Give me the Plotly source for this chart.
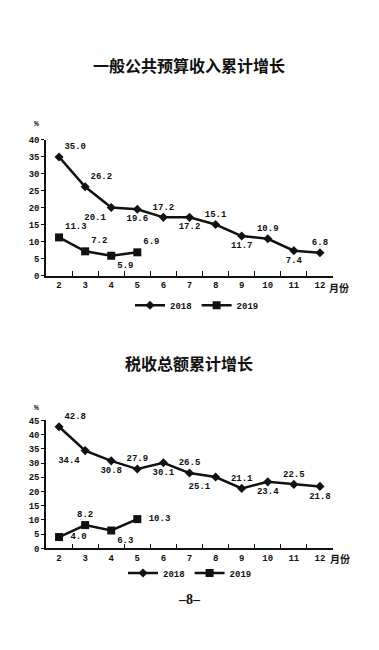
import plotly.graph_objects as go

months = ["2", "3", "4", "5", "6", "7", "8", "9", "10", "11", "12"]
budget_2018 = [35.0, 26.2, 20.1, 19.6, 17.2, 17.2, 15.1, 11.7, 10.9, 7.4, 6.8]
budget_2019 = [11.3, 7.2, 5.9, 6.9]
tax_2018 = [42.8, 34.4, 30.8, 27.9, 30.1, 26.5, 25.1, 21.1, 23.4, 22.5, 21.8]
tax_2019 = [4.0, 8.2, 6.3, 10.3]

title_top = "一般公共预算收入累计增长"
title_bottom = "税收总额累计增长"

budget_2018_pos = ["top right", "top right", "bottom left", "bottom center", "top center",
                   "bottom center", "top center", "bottom center", "top center", "bottom center", "top center"]
budget_2019_pos = ["top right", "top right", "bottom right", "top right"]
tax_2018_pos = ["top right", "bottom left", "bottom center", "top center", "bottom center",
                "top center", "bottom left", "top center", "bottom center", "top center", "bottom center"]
tax_2019_pos = ["middle right", "top center", "bottom right", "middle right"]

# page body has an 8px margin; figure is placed at (8, 8)
OFF = 8
FW, FH = 379 - 2 * OFF, 650 - 2 * OFF


def px(x):
    return (x - OFF) / FW


def py(y):
    return 1 - (y - OFF) / FH


cjk = "Noto Sans CJK SC"
numfam = "Liberation Mono"

fig = go.Figure()


def add_series(x, y, pos, sym, size, name, xa, ya, legend):
    labels = [(" " if p == "middle right" else "") + f"{v:.1f}" for v, p in zip(y, pos)]
    fig.add_trace(go.Scatter(
        x=x, y=y, mode="lines+markers+text", name=name,
        line=dict(color="#111", width=2.5),
        marker=dict(symbol=sym, size=size, color="#111"),
        text=labels, textposition=pos,
        textfont=dict(family=numfam, size=9, color="#111", weight="bold"),
        xaxis=xa, yaxis=ya, legend=legend, cliponaxis=False,
    ))


add_series(months, budget_2018, budget_2018_pos, "diamond", 7, "2018", "x", "y", "legend")
add_series(months[:4], budget_2019, budget_2019_pos, "square", 8, "2019", "x", "y", "legend")
add_series(months, tax_2018, tax_2018_pos, "diamond", 7, "2018", "x2", "y2", "legend2")
add_series(months[:4], tax_2019, tax_2019_pos, "square", 8, "2019", "x2", "y2", "legend2")

xdom = [px(46), px(333)]
top_dom = [py(276), py(138)]
bot_dom = [py(553), py(423)]

xcommon = dict(type="category", categoryorder="array", categoryarray=months,
               tickson="boundaries", ticks="inside", ticklen=5, tickcolor="#111",
               showline=True, linecolor="#111", linewidth=1.5, showgrid=False,
               tickfont=dict(family=numfam, size=9, color="#111", weight="bold"),
               range=[-0.5, 10.5], domain=xdom, fixedrange=True)
ycommon = dict(showline=True, linecolor="#111", linewidth=1.5, showgrid=False,
               ticks="outside", ticklen=3, tickcolor="#111", zeroline=False,
               tickfont=dict(family=numfam, size=9, color="#111", weight="bold"),
               dtick=5, fixedrange=True)

legfont = dict(family=numfam, size=9, color="#111", weight="bold")

fig.update_layout(
    width=FW, height=FH,
    margin=dict(l=0, r=0, t=0, b=0),
    paper_bgcolor="white", plot_bgcolor="white",
    xaxis=dict(**xcommon, anchor="y"),
    yaxis=dict(**ycommon, range=[0, 40], domain=top_dom, anchor="x"),
    xaxis2=dict(**xcommon, anchor="y2"),
    yaxis2=dict(**ycommon, range=[0, 45], domain=bot_dom, anchor="x2"),
    legend=dict(orientation="h", x=px(197), y=py(306), xanchor="center", yanchor="middle",
                font=legfont, itemwidth=30, tracegroupgap=0, bgcolor="rgba(0,0,0,0)"),
    legend2=dict(orientation="h", x=px(190), y=py(578), xanchor="center", yanchor="middle",
                 font=legfont, itemwidth=30, tracegroupgap=0, bgcolor="rgba(0,0,0,0)"),
    showlegend=True,
)

ann = [
    dict(text=title_top, x=px(189), y=py(62), font=dict(family=cjk, size=16, color="#111", weight="bold")),
    dict(text=title_bottom, x=px(189), y=py(365), font=dict(family=cjk, size=16, color="#111", weight="bold")),
    dict(text="%", x=px(36), y=py(121), font=dict(family=numfam, size=8, color="#111", weight="bold")),
    dict(text="%", x=px(36), y=py(410), font=dict(family=numfam, size=8, color="#111", weight="bold")),
    dict(text="月份", x=px(327), y=py(288), xanchor="left",
         font=dict(family=cjk, size=10, color="#111", weight="bold")),
    dict(text="月份", x=px(328), y=py(563), xanchor="left",
         font=dict(family=cjk, size=10, color="#111", weight="bold")),
    dict(text="–8–", x=px(189), y=py(605), font=dict(family="Liberation Serif", size=14, color="#111", weight="bold")),
]
for a in ann:
    a.setdefault("xanchor", "center")
    fig.add_annotation(xref="paper", yref="paper", showarrow=False, yanchor="middle", **a)

fig.write_html("out.html")
